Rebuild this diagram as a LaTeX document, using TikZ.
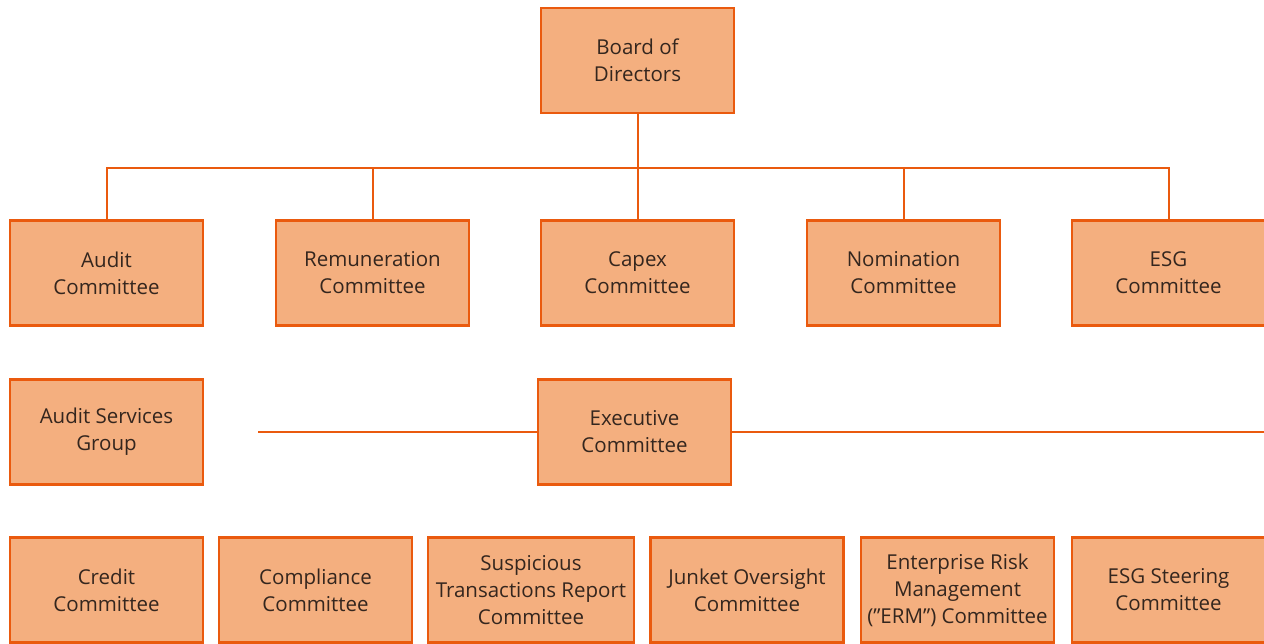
\documentclass[tikz,border=0pt]{standalone}
\usepackage{fontspec}
\setmainfont{Open Sans}
\usetikzlibrary{positioning}

\definecolor{boxfill}{RGB}{244,175,127}
\definecolor{boxline}{RGB}{234,90,14}
\definecolor{boxtext}{RGB}{52,38,30}

\begin{document}
\begin{tikzpicture}[
  x=1pt, y=-1pt,
  orangeblock/.style={
    rectangle,
    line width=2.4pt,
    draw=boxline,
    fill=boxfill,
    text=boxtext,
    align=center,
    inner sep=0pt,
    minimum width=193pt,
    minimum height=105pt,
    font=\fontsize{20.5}{27}\selectfont
  },
  link/.style={
    line width=2pt,
    draw=boxline
  }]
  \useasboundingbox (0,0) rectangle (1264,644);

  % top of the tree
  \node[orangeblock] (board) at (637.5,60.5) {Board of\\Directors};

  % board committees
  \node[orangeblock] (audit) at (106.5,273) {Audit\\Committee};
  \node[orangeblock] (remun) at (372.5,273) {Remuneration\\Committee};
  \node[orangeblock] (capex) at (637.5,273) {Capex\\Committee};
  \node[orangeblock] (nomin) at (903.5,273) {Nomination\\Committee};
  \node[orangeblock] (esg)   at (1168.5,273) {ESG\\Committee};

  % middle row
  \node[orangeblock] (asg)  at (106.5,432) {Audit Services\\Group};
  \node[orangeblock] (exec) at (634.5,432) {Executive\\Committee};

  % management committees
  \node[orangeblock] (credit) at (106.5,590) {Credit\\Committee};
  \node[orangeblock] (compl)  at (315.5,590) {Compliance\\Committee};
  \node[orangeblock, minimum width=206pt] (str) at (531,590)
    {Suspicious\\Transactions Report\\Committee};
  \node[orangeblock] (junket) at (747,590) {Junket Oversight\\Committee};
  \node[orangeblock] (erm)    at (957.5,590)
    {Enterprise Risk\\Management\\(”ERM”) Committee};
  \node[orangeblock] (esgsc)  at (1168.5,590) {ESG Steering\\Committee};

  % connectors
  \coordinate (bus) at (637.5,168);
  \draw[link] (board) -- (bus);
  \foreach \n in {audit,remun,capex,nomin,esg}
    \draw[link] (bus) -| (\n.north);

  \coordinate (execL) at (258,432);
  \coordinate (execR) at (1264,432);
  \draw[link] (execL) -- (exec.west);
  \draw[link] (exec.east) -- (execR);
\end{tikzpicture}
\end{document}
